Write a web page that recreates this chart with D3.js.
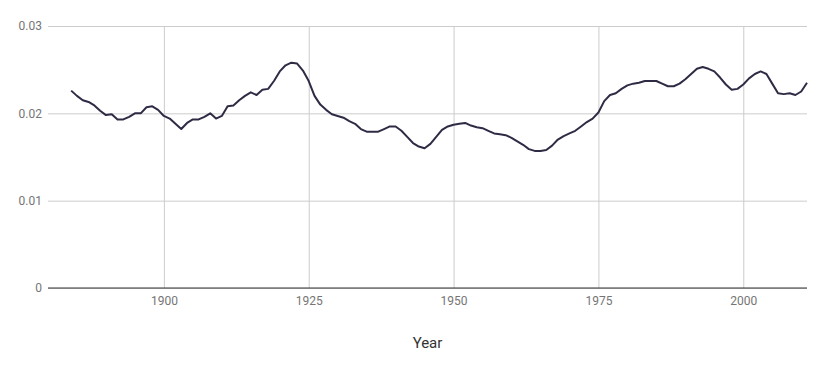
<!DOCTYPE html>
<html>
<head>
<meta charset="utf-8">
<script src="https://cdn.jsdelivr.net/npm/d3@7"></script>
<style>
    body { margin: 0; background: #fff; }
    svg { display: block; font-family: Roboto, sans-serif; }
</style>
</head>
<body>
<svg id="chart" width="825" height="371"></svg>
<script>
// --- data ---
const years = d3.range(1884, 2012);
const values = [
    0.0226, 0.0220, 0.0215, 0.0213, 0.0209, 0.0203, 0.0198, 0.0199, 0.0193, 0.0193,
    0.0196, 0.0200, 0.0200, 0.0207, 0.0208, 0.0204, 0.0197, 0.0194, 0.0188, 0.0182,
    0.0189, 0.0193, 0.0193, 0.0196, 0.0200, 0.0194, 0.0197, 0.0208, 0.0209, 0.0215,
    0.0220, 0.0224, 0.0221, 0.0227, 0.0228, 0.0237, 0.0248, 0.0255, 0.0258, 0.0257,
    0.0249, 0.0237, 0.0220, 0.0210, 0.0204, 0.0199, 0.0197, 0.0195, 0.0191, 0.0188,
    0.0182, 0.0179, 0.0179, 0.0179, 0.0182, 0.0185, 0.0185, 0.0180, 0.0173, 0.0166,
    0.0162, 0.0160, 0.0165, 0.0173, 0.0181, 0.0185, 0.0187, 0.0188, 0.0189, 0.0186,
    0.0184, 0.0183, 0.0180, 0.0177, 0.0176, 0.0175, 0.0172, 0.0168, 0.0164, 0.0159,
    0.0157, 0.0157, 0.0158, 0.0163, 0.0170, 0.0174, 0.0177, 0.0180, 0.0185, 0.0190,
    0.0194, 0.0201, 0.0214, 0.0221, 0.0223, 0.0228, 0.0232, 0.0234, 0.0235, 0.0237,
    0.0237, 0.0237, 0.0234, 0.0231, 0.0231, 0.0234, 0.0239, 0.0245, 0.0251, 0.0253,
    0.0251, 0.0248, 0.0241, 0.0233, 0.0227, 0.0228, 0.0233, 0.0240, 0.0245, 0.0248,
    0.0245, 0.0234, 0.0223, 0.0222, 0.0223, 0.0221, 0.0225, 0.0235
];
const xTicks = [1900, 1925, 1950, 1975, 2000];
const yTicks = [0, 0.01, 0.02, 0.03];
const xTitle = 'Year';

const data = years.map((y, i) => ({ year: y, value: values[i] }));

const margin = { top: 26, right: 18, bottom: 83, left: 48 };
const width = 825 - margin.left - margin.right;
const height = 371 - margin.top - margin.bottom;

const svg = d3.select('#chart');
const g = svg.append('g').attr('transform', `translate(${margin.left},${margin.top})`);

const x = d3.scaleLinear().domain([1880, 2011]).range([0, width]);
const y = d3.scaleLinear().domain([0, 0.03]).range([height, 0]);

// horizontal gridlines + y labels
const yAxis = g.append('g')
    .call(d3.axisLeft(y).tickValues(yTicks).tickSize(-width).tickFormat(d => d === 0 ? '0' : d3.format('.2f')(d)));
yAxis.select('.domain').remove();
yAxis.selectAll('.tick line').attr('stroke', '#cccccc');
yAxis.selectAll('.tick text')
    .attr('x', -6)
    .attr('fill', '#757575')
    .style('font-size', '12px')
    .style('font-family', 'Roboto, sans-serif');

// vertical gridlines + x labels
const xAxis = g.append('g')
    .attr('transform', `translate(0,${height})`)
    .call(d3.axisBottom(x).tickValues(xTicks).tickSize(-height).tickFormat(d3.format('d')));
xAxis.select('.domain').remove();
xAxis.selectAll('.tick line').attr('stroke', '#cccccc');
xAxis.selectAll('.tick text')
    .attr('y', 8)
    .attr('dy', '0.71em')
    .attr('fill', '#757575')
    .style('font-size', '12px')
    .style('font-family', 'Roboto, sans-serif');

// baseline
g.append('line')
    .attr('x1', 0).attr('x2', width)
    .attr('y1', y(0)).attr('y2', y(0))
    .attr('stroke', '#333333')
    .attr('stroke-width', 1.2);

// the series
const line = d3.line()
    .x(d => x(d.year))
    .y(d => y(d.value));

g.append('path')
    .datum(data)
    .attr('fill', 'none')
    .attr('stroke', '#2f2b45')
    .attr('stroke-width', 2)
    .attr('stroke-linejoin', 'round')
    .attr('d', line);

// axis title
svg.append('text')
    .attr('x', margin.left + width / 2)
    .attr('y', 348)
    .attr('text-anchor', 'middle')
    .attr('fill', '#333333')
    .style('font-size', '15px')
    .style('font-family', 'Roboto, sans-serif')
    .text(xTitle);
</script>
</body>
</html>
